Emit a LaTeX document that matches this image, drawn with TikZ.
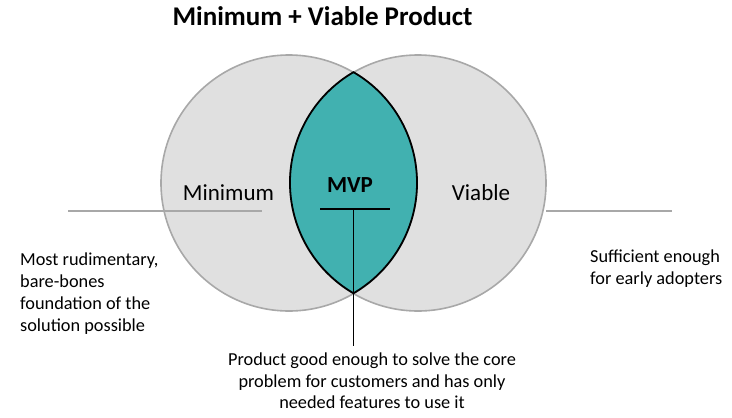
\documentclass[tikz,border=0pt]{standalone}
\usepackage{fontspec}
\setmainfont{Carlito}
\definecolor{circfill}{HTML}{E0E0E0}
\definecolor{circline}{HTML}{A8A8A8}
\definecolor{mvpteal}{HTML}{41B1B0}
\begin{document}
\begin{tikzpicture}[x=1pt,y=1pt,
  circ/.style={fill=circfill},
  circedge/.style={draw=circline,line width=1.6pt},
  guide/.style={draw=circline,line width=1.6pt},
  blackline/.style={draw=black,line width=1.8pt},
  lbl/.style={font=\fontsize{23}{28}\selectfont,inner sep=0pt,anchor=base},
  body/.style={font=\fontsize{18.3}{21.8}\selectfont,inner sep=0pt}]
\useasboundingbox (0,0) rectangle (732,-418);
\coordinate (cl) at (289,-183);
\coordinate (cr) at (418,-183);
\fill[circ] (cl) circle[radius=128];
\fill[circ] (cr) circle[radius=128];
\draw[circedge] (cl) circle[radius=128];
\draw[circedge] (cr) circle[radius=128];
\coordinate (top) at (353.5,-72.15);
\path[fill=mvpteal,draw=black,line width=1.8pt] (top)
  arc[start angle=59.74,end angle=-59.74,radius=128]
  arc[start angle=239.74,end angle=120.26,radius=128] -- cycle;
% guide lines
\coordinate (gl1) at (68,-211);
\coordinate (gl2) at (262,-211);
\coordinate (gr1) at (546,-211);
\coordinate (gr2) at (672,-211);
\draw[guide] (gl1) -- (gl2);
\draw[guide] (gr1) -- (gr2);
% T bar
\coordinate (tb1) at (320,-209);
\coordinate (tb2) at (390,-209);
\coordinate (tv1) at (353.5,-209);
\coordinate (tv2) at (353.5,-346);
\draw[blackline] (tb1) -- (tb2);
\draw[blackline] (tv1) -- (tv2);
% texts
\node[font=\bfseries\fontsize{27}{32}\selectfont,inner sep=0pt,anchor=base] (title) at (322.5,-25) {Minimum + Viable Product};
\node[lbl] (minimum) at (228.5,-200) {Minimum};
\node[lbl] (viable) at (481,-200) {Viable};
\node[lbl,font=\bfseries\fontsize{23}{28}\selectfont] (mvp) at (350,-192) {MVP};
\node[body,align=left,anchor=north west] (lefttext) at (20,-253) {Most rudimentary,\\bare-bones\\foundation of the\\solution possible};
\node[body,align=left,anchor=north west] (righttext) at (590,-250) {Sufficient enough\\for early adopters};
\node[body,align=center,anchor=north] (bottomtext) at (372,-352.4) {Product good enough to solve the core\\problem for customers and has only\\needed features to use it};
\end{tikzpicture}
\end{document}
